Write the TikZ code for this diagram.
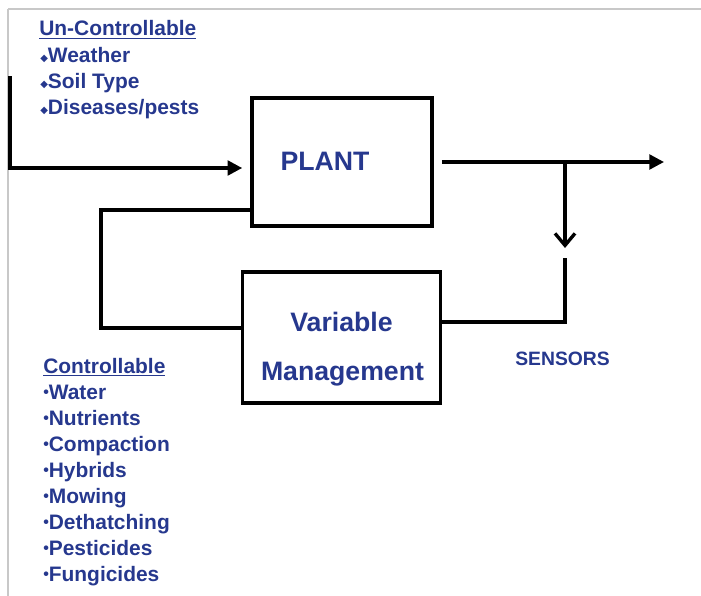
\documentclass[tikz,border=0pt]{standalone}
\usepackage{fontspec}
\setmainfont{Liberation Sans}
\newfontfamily\symfont{DejaVu Sans}
\usetikzlibrary{arrows.meta}
\definecolor{txtblue}{RGB}{38,56,142}
\definecolor{framegray}{RGB}{200,200,200}
\tikzset{
  lbl/.style={inner sep=0pt, text=txtblue, font=\bfseries\fontsize{15.7pt}{18pt}\selectfont},
  biglbl/.style={inner sep=0pt, text=txtblue, font=\bfseries\fontsize{20pt}{24pt}\selectfont},
  senslbl/.style={inner sep=0pt, text=txtblue, font=\bfseries\fontsize{14.5pt}{17pt}\selectfont},
  blockbox/.style={draw=black, line width=2.7pt, inner sep=0pt, fill=white},
  wire/.style={draw=black, line width=2.5pt},
  filltip/.style={wire, -{Triangle[length=11pt,width=11pt]}},
  barbtip/.style={wire, -{Straight Barb[length=9pt,width=15pt,line width=2.5pt]}},
}
\newcommand{\dia}{{\symfont\fontsize{7.5pt}{8pt}\selectfont\raisebox{0.5pt}{◆}}}
\newcommand{\dotb}{{\fontsize{12pt}{12pt}\selectfont\raisebox{1.5pt}{•}}}
\begin{document}
\begin{tikzpicture}[x=0.75pt,y=-0.75pt]
\useasboundingbox (0,0) rectangle (701,596);
% frame
\draw[framegray, line width=0.8pt] (8,9) -- (701,9);
\draw[framegray, line width=0.8pt] (8,9) -- (8,596);

% boxes
\node[blockbox, minimum width=135pt, minimum height=96pt] (plant) at (342,162) {};
\node[blockbox, minimum width=148.5pt, minimum height=98.25pt] (vm) at (341.5,337.5) {};

% box texts
\node[biglbl, anchor=base] (plantlbl) at (325,170) {PLANT};
\node[biglbl, anchor=base] (vmlbl1) at (341.5,331) {Variable};
\node[biglbl, anchor=base] (vmlbl2) at (342.5,380) {Management};
\node[senslbl, anchor=base west] (sens) at (515,365) {SENSORS};

% uncontrollable list
\node[lbl, anchor=base west] (unc) at (39,36) {\underline{Un-Controllable}};
\node[lbl, anchor=base west] (u1) at (40,62) {\dia Weather};
\node[lbl, anchor=base west] (u2) at (40,88) {\dia Soil Type};
\node[lbl, anchor=base west] (u3) at (40,114) {\dia Diseases/pests};

% controllable list
\node[lbl, anchor=base west] (con) at (43,373) {\underline{Controllable}};
\node[lbl, anchor=base west] (c1) at (43,399) {\dotb Water};
\node[lbl, anchor=base west] (c2) at (43,425) {\dotb Nutrients};
\node[lbl, anchor=base west] (c3) at (43,451) {\dotb Compaction};
\node[lbl, anchor=base west] (c4) at (43,477) {\dotb Hybrids};
\node[lbl, anchor=base west] (c5) at (43,503) {\dotb Mowing};
\node[lbl, anchor=base west] (c6) at (43,529) {\dotb Dethatching};
\node[lbl, anchor=base west] (c7) at (43,555) {\dotb Pesticides};
\node[lbl, anchor=base west] (c8) at (43,581) {\dotb Fungicides};

% coordinates
\coordinate (inTop) at (10,76);
\coordinate (inCorner) at (10,168);
\coordinate (outEnd) at (664,162);
\coordinate (br) at (565,162);
\coordinate (brTip) at (565,248);
\coordinate (s2) at (565,258);
\coordinate (s3) at (565,322);
\coordinate (fb1) at (101,328);
\coordinate (fb2) at (101,210);

% input
\draw[filltip, shorten >=6pt] (inTop) -- (inCorner) -- (inCorner -| plant.west);
% output
\draw[filltip, shorten <=6pt] (plant.east) -- (outEnd);
% branch to sensors
\draw[barbtip] (br) -- (brTip);
\draw[wire] (s2) -- (s3) -- (s3 -| vm.east);
% feedback
\draw[wire] (fb1 -| vm.west) -- (fb1) -- (fb2) -- (fb2 -| plant.west);
\end{tikzpicture}
\end{document}
